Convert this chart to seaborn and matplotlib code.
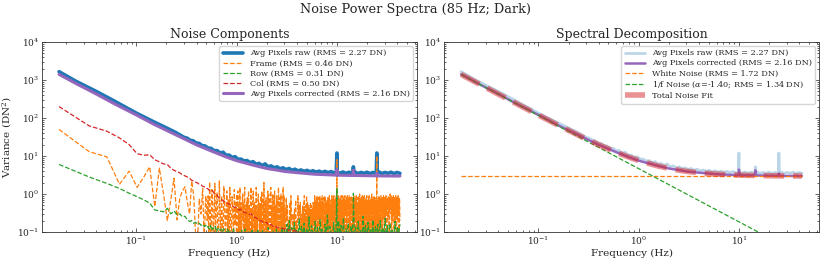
import numpy as np
import matplotlib
matplotlib.use("Agg")
import matplotlib.pyplot as plt
import seaborn as sns

# ---------------- data ----------------
# low-frequency bins (linear spacing of the PSD)
f_lin = [0.017, 0.034, 0.051, 0.068, 0.085, 0.102, 0.119, 0.136, 0.153, 0.170,
         0.187, 0.204, 0.221, 0.238, 0.255, 0.272, 0.289, 0.306, 0.323, 0.340,
         0.357, 0.374, 0.391, 0.408, 0.425, 0.442, 0.459, 0.476, 0.493, 0.510]
frame_lin = [50, 13, 9.5, 1.8, 4.0, 1.5, 2.8, 5.2, 0.47, 4.8,
             1.0, 0.2, 0.7, 2.6, 0.21, 0.8, 1.2, 1.55, 0.6, 0.3,
             2.2, 0.9, 0.08, 0.05, 0.75, 0.3, 1.4, 0.06, 0.9, 0.2]
row_lin = [6.0, 2.8, 1.9, 1.4, 1.05, 0.85, 0.7, 0.58, 0.38, 0.36,
           0.34, 0.42, 0.3, 0.36, 0.28, 0.3, 0.25, 0.26, 0.21, 0.19,
           0.2, 0.17, 0.18, 0.16, 0.17, 0.15, 0.16, 0.14, 0.15, 0.13]
col_lin = [200, 62, 45, 30, 20, 11.5, 10.5, 10.8, 8.0, 7.0,
           6.2, 6.0, 4.8, 4.2, 3.9, 3.6, 3.2, 3.0, 2.8, 2.6,
           2.3, 2.2, 2.05, 1.95, 1.8, 1.75, 1.6, 1.55, 1.45, 1.4]

# Frame noise above 0.5 Hz, in bands sampled evenly in log f.
# Dense bands are written as strings of readings: '1'..'9' = 0.1..0.9,
# '0' = below the axis (0.05), 'a' = 1.0, 'b' = 1.2, 'c' = 1.5, 'd' = 2.0
READING = {"0": 0.05, "a": 1.0, "b": 1.2, "c": 1.5, "d": 2.0}
frame_band_edges = [0.52, 1.0, 3.0, 4.5, 42.5]
frame_bands = [
    [0.9, 0.06, 2.1, 0.3, 0.05, 1.3, 0.7, 0.04, 0.25, 1.9, 0.08, 0.5, 1.1, 0.05,
     0.07, 2.2, 0.4, 0.06, 0.9, 0.2, 0.05, 1.6, 0.6, 0.04, 0.3, 1.2, 0.08, 0.7,
     0.05, 1.5, 0.2, 0.06, 0.85, 0.35, 0.05, 1.3, 0.15, 0.6],
    "0a3b0518c06305a2609c14060830b05209c1407b306050c1408a2605090b3070d046082"
    "05b1a7306c050a0930b05209070c40805a0603c09",
    "140825120609230314071209250612",
    "31524063194230513392046143052430316342504213360425391604328319360348250193647032"
    "29150628431930382604517328056149273405162947031859264073815926047381592604738159"
    "26041937205814936027581493602759148306279154830627915483062791548306279154a30627"
    "81504937261849305726184930572618493057261849a05726184930572618493057261849305726"
    "49306185274936018527493601852749360185a7493601852749360185274936018527493601852",
]
frame_spike_f = [10.0, 25.0]
frame_spike_v = [8.0, 10.0]

# row noise above 0.5 Hz
row_band_edges = [0.52, 1.04, 3.0, 42.5]
row_bands = [
    [0.14, 0.12, 0.15, 0.11, 0.13, 0.12, 0.14, 0.1, 0.12, 0.13, 0.11, 0.12, 0.1,
     0.12, 0.11, 0.09, 0.12, 0.1, 0.11, 0.09, 0.1, 0.12, 0.08, 0.1, 0.09],
    [0.08, 0.1, 0.07, 0.11, 0.06, 0.09, 0.12, 0.07, 0.08, 0.1, 0.06, 0.09, 0.11,
     0.07, 0.05, 0.1, 0.08, 0.12, 0.06, 0.09, 0.07, 0.11, 0.05, 0.08, 0.1, 0.06,
     0.13, 0.07, 0.09, 0.05, 0.11, 0.08, 0.06, 0.12, 0.07, 0.1, 0.05, 0.09, 0.13, 0.06],
    [0.12, 0.05, 0.16, 0.08, 0.2, 0.06, 0.13, 0.04, 0.18, 0.09, 0.11, 0.05, 0.22,
     0.07, 0.14, 0.06, 0.17, 0.04, 0.12, 0.08, 0.25, 0.05, 0.15, 0.1, 0.06, 0.19,
     0.07, 0.13, 0.04, 0.21, 0.09, 0.12, 0.05, 0.16, 0.08, 0.28, 0.06, 0.14, 0.1,
     0.05, 0.18, 0.07, 0.13, 0.04, 0.2, 0.09, 0.15, 0.06, 0.24, 0.05, 0.12, 0.08,
     0.17, 0.04, 0.14, 0.1, 0.22, 0.06, 0.13, 0.05, 0.19, 0.08, 0.11, 0.04, 0.26,
     0.07, 0.15, 0.05, 0.18, 0.09, 0.12, 0.06, 0.21, 0.04, 0.14, 0.08, 0.16, 0.05,
     0.2, 0.07, 0.13, 0.1, 0.23, 0.06, 0.15, 0.05, 0.17, 0.08, 0.12, 0.04, 0.19,
     0.07, 0.14, 0.09, 0.16],
]
row_spike_f = [10.0, 14.6]
row_spike_v = [1.4, 1.05]

# column noise above 0.5 Hz (0.52 .. 8 Hz, log-even) plus tail
col_mid_range = (0.52, 8.0)
col_mid = [1.35, 1.2, 1.25, 1.0, 0.95, 0.8,
           0.72, 0.66, 0.62, 0.58, 0.52, 0.5, 0.45,
           0.44, 0.38, 0.40, 0.34, 0.33, 0.31,
           0.29, 0.3, 0.25, 0.24, 0.22, 0.2, 0.19, 0.17,
           0.18, 0.15, 0.16, 0.14, 0.145, 0.13, 0.135, 0.125,
           0.12, 0.125, 0.11, 0.115, 0.105, 0.11, 0.1, 0.098,
           0.09, 0.095, 0.085, 0.082, 0.08, 0.075, 0.07, 0.068,
           0.066, 0.06, 0.063, 0.057, 0.055]
col_tail_f = [15.0, 42.5]
col_tail_v = [0.045, 0.04]

# averaged-pixel spectra
raw_low_f = [0.017, 0.025, 0.04, 0.06, 0.1, 0.15, 0.2, 0.25]
raw_low = [1660, 930, 500, 283, 135, 79, 55, 41]
raw_hf_range = (0.3, 42.5)
raw_hf = [31.0, 29.5, 26.0, 25.2, 22.0, 21.5, 18.8, 18.4, 16.2, 15.9,
          13.8, 13.9, 12.0, 12.6, 10.5, 10.6, 9.2, 9.6, 8.2, 8.3,
          7.4, 7.6, 6.7, 7.1, 6.1, 6.4, 5.6, 6.2, 5.2, 5.5,
          4.9, 5.2, 4.6, 4.9, 4.4, 4.7, 4.2, 4.5, 4.05, 4.3,
          3.95, 4.2, 3.85, 4.1, 3.75, 4.0, 3.7, 3.95, 3.65, 3.9,
          3.6, 3.85, 3.55, 3.8, 3.5, 3.75, 3.5, 3.8, 3.45, 3.7,
          3.5, 3.75, 3.45, 3.7, 3.5, 3.8, 3.45, 3.7, 3.5, 3.75,
          3.45, 3.7, 3.5]
raw_spike_f = [9.85, 10.0, 10.15, 14.45, 14.6, 14.75, 24.7, 25.0, 25.3]
raw_spike_v = [3.6, 12.0, 3.6, 3.6, 5.2, 3.6, 3.6, 12.0, 3.6]

node_f = [0.017, 0.025, 0.04, 0.06, 0.1, 0.15, 0.25, 0.4, 0.6, 0.8, 1.0,
          1.5, 2.0, 2.5, 3.0, 4.0, 6.0, 10.0, 15.0, 25.0, 42.5]
corrected = [1410, 812, 428, 240, 121, 68.5, 35.8, 19.6, 12.6, 9.3, 7.55,
             5.65, 4.7, 4.28, 3.93, 3.65, 3.32, 3.13, 3.08, 3.0, 2.97]
corr_spike_f = [9.85, 10.0, 10.15, 14.4, 14.6, 14.8, 24.7, 25.0, 25.3]
corr_spike_v = [3.14, 4.4, 3.13, 3.08, 4.2, 3.07, 3.01, 3.5, 3.0]
fit_total = [1403, 818, 425, 242, 120, 69.3, 35.4, 19.8, 12.5, 9.33, 7.62,
             5.6, 4.73, 4.25, 3.96, 3.63, 3.34, 3.15, 3.07, 3.01, 2.98]

white_f = [0.017, 42.5]
white_v = [2.96, 2.96]
pink_f = [0.017, 42.5]
pink_v = [1400, 0.0245]

labels_left = ["Avg Pixels raw (RMS = 2.27 DN)", "Frame (RMS = 0.46 DN)",
               "Row (RMS = 0.31 DN)", "Col (RMS = 0.50 DN)",
               "Avg Pixels corrected (RMS = 2.16 DN)"]
labels_right = ["Avg Pixels raw (RMS = 2.27 DN)", "Avg Pixels corrected (RMS = 2.16 DN)",
                "White Noise (RMS = 1.72 DN)", "1/f Noise ($\\alpha$=-1.40; RMS = 1.34 DN)",
                "Total Noise Fit"]


# ---------------- assemble series ----------------
def readings(vals):
    if isinstance(vals, str):
        return np.array([READING[c] if c in READING else int(c) / 10 for c in vals])
    return np.asarray(vals, float)


def bands_grid(edges, bands):
    fs, vs = [], []
    for i, vals in enumerate(bands):
        v = readings(vals)
        last = i == len(bands) - 1
        fs.append(np.geomspace(edges[i], edges[i + 1], len(v), endpoint=last))
        vs.append(v)
    return np.concatenate(fs), np.concatenate(vs)


def merged(*pairs):
    f = np.concatenate([np.asarray(p[0], float) for p in pairs])
    v = np.concatenate([np.asarray(p[1], float) for p in pairs])
    o = np.argsort(f, kind="stable")
    return f[o], v[o]


ff, fv = bands_grid(frame_band_edges, frame_bands)
frame_f, frame_v = merged((f_lin, frame_lin), (ff, fv), (frame_spike_f, frame_spike_v))
rf, rv = bands_grid(row_band_edges, row_bands)
row_f, row_v = merged((f_lin, row_lin), (rf, rv), (row_spike_f, row_spike_v))
cf = np.geomspace(col_mid_range[0], col_mid_range[1], len(col_mid))
col_f, col_v = merged((f_lin, col_lin), (cf, col_mid), (col_tail_f, col_tail_v))
hf = np.geomspace(raw_hf_range[0], raw_hf_range[1], len(raw_hf))
raw_f, raw_v = merged((raw_low_f, raw_low), (hf, raw_hf), (raw_spike_f, raw_spike_v))
cor_f, cor_v = merged((node_f, corrected), (corr_spike_f, corr_spike_v))

# ---------------- style ----------------
sns.set_style("ticks")
plt.rcParams.update({
    "font.family": ["DejaVu Serif"],
    "mathtext.fontset": "dejavuserif",
    "axes.linewidth": 0.6,
    "axes.edgecolor": "#333333",
    "xtick.direction": "in", "ytick.direction": "in",
    "xtick.top": True, "ytick.right": True,
    "xtick.minor.visible": True, "ytick.minor.visible": True,
    "xtick.major.size": 3.0, "ytick.major.size": 3.0,
    "xtick.minor.size": 1.5, "ytick.minor.size": 1.5,
    "xtick.major.width": 0.5, "ytick.major.width": 0.5,
    "xtick.minor.width": 0.5, "ytick.minor.width": 0.5,
    "xtick.labelsize": 6.5, "ytick.labelsize": 6.5,
    "axes.labelsize": 7.5, "axes.titlesize": 9,
    "legend.fontsize": 5.9,
})

C0, C1, C2, C3, C4 = sns.color_palette("tab10")[:5]

fig = plt.figure(figsize=(8.3, 2.67), dpi=100)
ax1 = fig.add_axes([0.0506, 0.131, 0.4518, 0.7116])
ax2 = fig.add_axes([0.535, 0.131, 0.4518, 0.7116])

for ax in (ax1, ax2):
    ax.set_xscale("log")
    ax.set_yscale("log")

kw = dict(estimator=None, sort=False, ax=ax1)
sns.lineplot(x=raw_f, y=raw_v, color=C0, lw=2.6, label=labels_left[0], **kw)
sns.lineplot(x=frame_f, y=frame_v, color=C1, lw=0.9, ls="--", label=labels_left[1], **kw)
sns.lineplot(x=row_f, y=row_v, color=C2, lw=0.9, ls="--", label=labels_left[2], **kw)
sns.lineplot(x=col_f, y=col_v, color=C3, lw=0.9, ls="--", label=labels_left[3], **kw)
sns.lineplot(x=cor_f, y=cor_v, color=C4, lw=2.2, label=labels_left[4], **kw)

kw = dict(estimator=None, sort=False, ax=ax2)
sns.lineplot(x=raw_f, y=raw_v, color=C0, alpha=0.3, lw=2.0, label=labels_right[0], **kw)
sns.lineplot(x=cor_f, y=cor_v, color=C4, lw=1.8, label=labels_right[1], **kw)
sns.lineplot(x=white_f, y=white_v, color=C1, lw=0.9, ls="--", label=labels_right[2], **kw)
sns.lineplot(x=pink_f, y=pink_v, color=C2, lw=0.9, ls="--", label=labels_right[3], **kw)
sns.lineplot(x=node_f, y=fit_total, color=C3, lw=4.0, ls="--", alpha=0.5,
             label=labels_right[4], **kw)

for ax, title in ((ax1, "Noise Components"), (ax2, "Spectral Decomposition")):
    ax.set_ylim(0.1, 1e4)
    ax.set_title(title, pad=3)
    ax.set_xlabel("Frequency (Hz)", labelpad=1)
    ax.tick_params(which="both", top=True, right=True, pad=2)
    ax.legend(loc="upper right", handlelength=2.5, borderpad=0.4, labelspacing=0.25,
              handletextpad=0.8, framealpha=0.8, edgecolor="#cccccc")
ax1.set_ylabel("Variance (DN$^2$)", labelpad=2)
ax2.set_ylabel("")

fig.suptitle("Noise Power Spectra (85 Hz; Dark)", fontsize=9.3, y=0.99)
fig.savefig("out.png", dpi=100)
